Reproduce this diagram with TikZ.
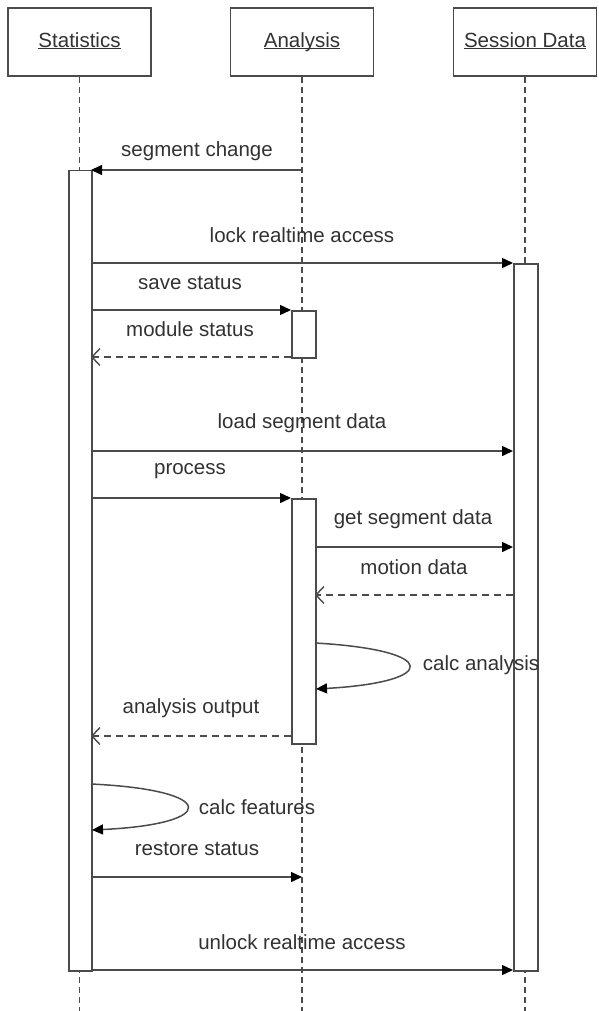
\documentclass[tikz,border=0pt]{standalone}
\usepackage{fontspec}
\setmainfont{Liberation Sans}
\usetikzlibrary{arrows.meta}
\definecolor{ln}{RGB}{75,75,75}
\definecolor{tx}{RGB}{50,50,50}
\newcommand\hdline[1]{\underline{\smash{#1}}\vphantom{Sy}}
\begin{document}
\begin{tikzpicture}[x=1pt,y=-1pt,
  every node/.style={font=\fontsize{20.5}{24}\selectfont, text=tx},
  head/.style={draw=ln, line width=1.6pt, fill=white, minimum width=143pt, minimum height=68pt, inner sep=0pt},
  actbox/.style={draw=ln, line width=1.5pt, fill=white, anchor=north west, inner sep=0pt},
  life/.style={draw=ln, line width=1.5pt, dash pattern=on 6pt off 4pt},
  msg/.style={draw=ln, line width=1.5pt, -{Triangle[length=11pt,width=10pt,color=black]}},
  ret/.style={draw=ln, line width=1.4pt, dash pattern=on 7pt off 5pt, -{Straight Barb[length=8pt,width=17pt]}},
  lbl/.style={inner sep=0pt, anchor=center}]
\useasboundingbox (0,0) rectangle (598,1011);
\fill[white] (0,0) rectangle (598,1011);

% headers
\node[head] (hS) at (79.5,42) {\hdline{Statistics}};
\node[head] (hA) at (302,42) {\hdline{Analysis}};
\node[head] (hD) at (525,42) {\hdline{Session Data}};

% lifeline ends
\coordinate (eS) at (79.5,1011);
\coordinate (eA) at (302,1011);
\coordinate (eD) at (525,1011);
\draw[life] (hS.south) -- (eS);
\draw[life] (hA.south) -- (eA);
\draw[life] (hD.south) -- (eD);

% activations
\node[actbox, minimum width=23pt, minimum height=800pt] (aS) at (68,170) {};
\node[actbox, minimum width=24pt, minimum height=707pt] (aD) at (513,263) {};
\node[actbox, minimum width=24pt, minimum height=47pt] (aA1) at (291,310) {};
\node[actbox, minimum width=24pt, minimum height=245pt] (aA2) at (291,498) {};

% message endpoints
\coordinate (m1a) at (302,170);  \coordinate (m1b) at (91,170);
\coordinate (m2a) at (91,263);   \coordinate (m2b) at (513,263);
\coordinate (m3a) at (91,310);   \coordinate (m3b) at (291,310);
\coordinate (m4a) at (291,357);  \coordinate (m4b) at (91,357);
\coordinate (m5a) at (91,451);   \coordinate (m5b) at (513,451);
\coordinate (m6a) at (91,498);   \coordinate (m6b) at (291,498);
\coordinate (m7a) at (315,547);  \coordinate (m7b) at (513,547);
\coordinate (m8a) at (513,595);  \coordinate (m8b) at (315,595);
\coordinate (c1a) at (315,643);  \coordinate (c1b) at (440,650);
\coordinate (c1c) at (440,682);  \coordinate (c1d) at (316,689);
\coordinate (m9a) at (291,736);  \coordinate (m9b) at (91,736);
\coordinate (c2a) at (91,784);   \coordinate (c2b) at (219,790);
\coordinate (c2c) at (219,824);  \coordinate (c2d) at (92,830);
\coordinate (m10a) at (91,877);  \coordinate (m10b) at (302,877);
\coordinate (m11a) at (91,970);  \coordinate (m11b) at (513,970);

% messages
\draw[msg] (m1a) -- (m1b);
\draw[msg] (m2a) -- (m2b);
\draw[msg] (m3a) -- (m3b);
\draw[ret] (m4a) -- (m4b);
\draw[msg] (m5a) -- (m5b);
\draw[msg] (m6a) -- (m6b);
\draw[msg] (m7a) -- (m7b);
\draw[ret] (m8a) -- (m8b);
\draw[msg] (c1a) .. controls (c1b) and (c1c) .. (c1d);
\draw[ret] (m9a) -- (m9b);
\draw[msg] (c2a) .. controls (c2b) and (c2c) .. (c2d);
\draw[msg] (m10a) -- (m10b);
\draw[msg] (m11a) -- (m11b);

% labels
\node[lbl] (l1) at (197,151) {segment change};
\node[lbl] (l2) at (302,235) {lock realtime access};
\node[lbl] (l3) at (190,283) {save status};
\node[lbl] (l4) at (190,329) {module status};
\node[lbl] (l5) at (302,423) {load segment data};
\node[lbl] (l6) at (190,471) {process};
\node[lbl] (l7) at (413,519) {get segment data};
\node[lbl] (l8) at (414,567) {motion data};
\node[lbl] (l9) at (481,665) {calc analysis};
\node[lbl] (l10) at (191,708) {analysis output};
\node[lbl] (l11) at (257,807) {calc features};
\node[lbl] (l12) at (197,849) {restore status};
\node[lbl] (l13) at (302,942) {unlock realtime access};
\end{tikzpicture}
\end{document}
